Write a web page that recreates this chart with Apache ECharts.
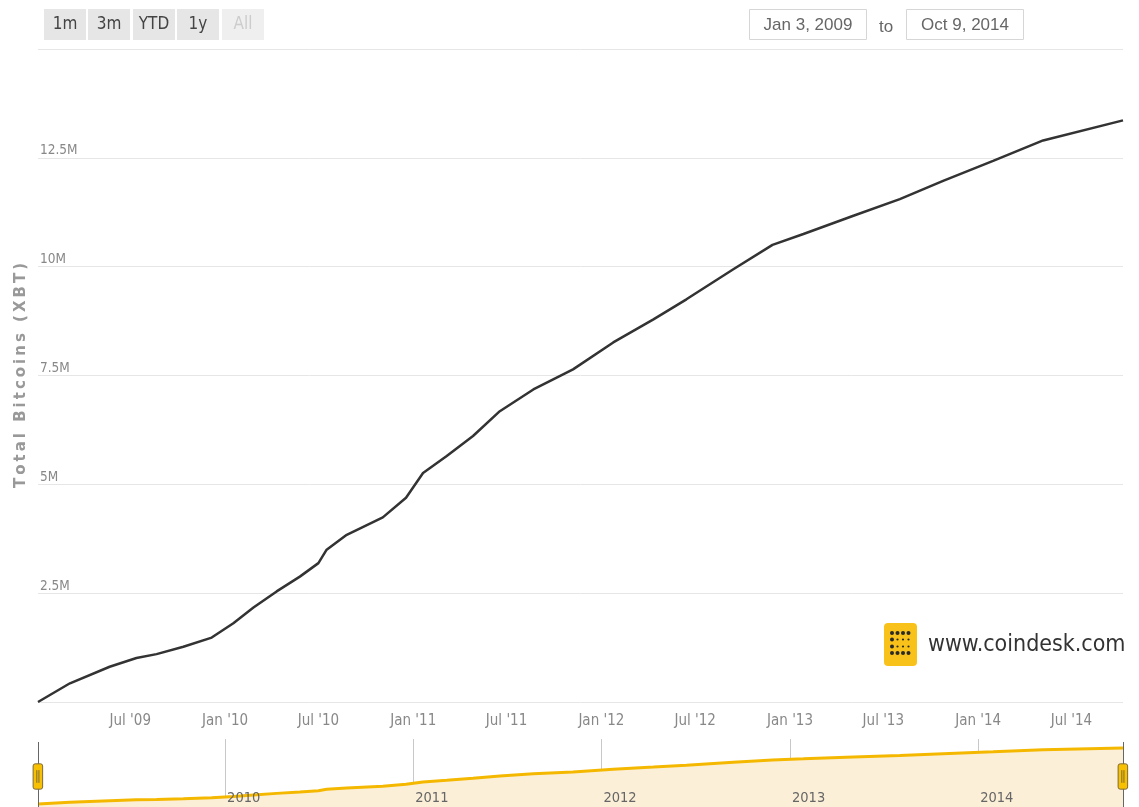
<!DOCTYPE html>
<html>
<head>
<meta charset="utf-8">
<script src="https://cdn.jsdelivr.net/npm/echarts@6/dist/echarts.min.js"></script>
<style>
html,body{margin:0;padding:0;background:#fff;}
#chart{width:1139px;height:807px;}
</style>
</head>
<body>
<div id="chart"></div>
<script>
// ---- data ----
const dates = [
  '2009-01-03','2009-03-06','2009-05-22','2009-07-13','2009-08-21','2009-10-12','2009-12-06',
  '2010-01-17','2010-02-25','2010-04-11','2010-05-26','2010-07-01','2010-07-17','2010-08-25',
  '2010-11-03','2010-12-18','2011-01-20','2011-03-07','2011-04-27','2011-06-18','2011-08-22',
  '2011-11-07','2012-01-24','2012-04-11','2012-06-14','2012-09-13','2012-11-28','2013-01-27',
  '2013-05-04','2013-08-02','2013-10-25','2014-01-30','2014-05-07','2014-10-09'
];
const totalBitcoins = [
  50, 430000, 810000, 1010000, 1100000, 1270000, 1480000,
  1810000, 2170000, 2540000, 2880000, 3190000, 3500000, 3840000,
  4240000, 4690000, 5260000, 5650000, 6110000, 6680000, 7180000,
  7640000, 8260000, 8790000, 9250000, 9940000, 10500000, 10750000,
  11170000, 11550000, 11970000, 12430000, 12900000, 13360000
];
const monthTickDates = ['2009-07-01','2010-01-01','2010-07-01','2011-01-01','2011-07-01','2012-01-01',
  '2012-07-01','2013-01-01','2013-07-01','2014-01-01','2014-07-01'];
const yearTickDates = ['2010-01-01','2011-01-01','2012-01-01','2013-01-01','2014-01-01'];
const yTickStep = 2500000;
const yMax = 15000000;
const yTitle = 'Total Bitcoins (XBT)';
const rangeButtons = ['1m','3m','YTD','1y','All'];
const rangeFrom = 'Jan 3, 2009';
const rangeTo = 'Oct 9, 2014';
const watermark = 'www.coindesk.com';
const monthNames = ['Jan','Feb','Mar','Apr','May','Jun','Jul','Aug','Sep','Oct','Nov','Dec'];

// ---- helpers ----
const ts = s => { const p = s.split('-').map(Number); return Date.UTC(p[0], p[1]-1, p[2]); };
const seriesData = dates.map((d,i) => [ts(d), totalBitcoins[i]]);
const xMin = ts(dates[0]), xMax = ts(dates[dates.length-1]);
const FONT = "'DejaVu Sans Condensed','DejaVu Sans',sans-serif";

const chart = echarts.init(document.getElementById('chart'), null, {renderer:'canvas'});

// range selector buttons
const btnX = [44, 88, 133, 177, 222];
const graphics = [];
rangeButtons.forEach((b,i) => {
  const disabled = b === 'All';
  graphics.push({type:'rect', shape:{x:btnX[i], y:9, width:42, height:31},
    style:{fill: disabled ? '#efefef' : '#e6e6e6'}, silent:true});
  graphics.push({type:'text', x:btnX[i]+21, y:25, style:{text:b, fill: disabled ? '#cccccc' : '#444',
    font:"17px " + FONT, align:'center', verticalAlign:'middle'}, silent:true});
});
// date inputs
graphics.push({type:'rect', shape:{x:749.5, y:9.5, width:117, height:30}, style:{fill:'#fff', stroke:'#d6d6d6', lineWidth:1}, silent:true});
graphics.push({type:'text', x:808, y:25, style:{text:rangeFrom, fill:'#666', font:"17px 'Liberation Sans',Arial,sans-serif", align:'center', verticalAlign:'middle'}, silent:true});
graphics.push({type:'text', x:886, y:27, style:{text:'to', fill:'#666', font:"17px 'Liberation Sans',Arial,sans-serif", align:'center', verticalAlign:'middle'}, silent:true});
graphics.push({type:'rect', shape:{x:906.5, y:9.5, width:117, height:30}, style:{fill:'#fff', stroke:'#d6d6d6', lineWidth:1}, silent:true});
graphics.push({type:'text', x:965, y:25, style:{text:rangeTo, fill:'#666', font:"17px 'Liberation Sans',Arial,sans-serif", align:'center', verticalAlign:'middle'}, silent:true});
// watermark logo
graphics.push({type:'rect', shape:{x:884, y:623, width:33, height:43, r:4}, style:{fill:'#f9c21b'}, silent:true});
const dotCols = [892, 897.5, 903, 908.5], dotRows = [633, 639.5, 646.5, 653];
dotRows.forEach((yy, r) => dotCols.forEach((xx, c) => {
  const big = (r === 0 || r === 3 || c === 0);
  graphics.push({type:'circle', shape:{cx:xx, cy:yy, r: big ? 2 : 1.1}, style:{fill:'#2a2a2a'}, silent:true});
}));
graphics.push({type:'text', x:928, y:645, style:{text:watermark, fill:'#333', font:"23px " + FONT, verticalAlign:'middle'}, silent:true});

const spacedTitle = yTitle.split('').join('\u2009');

const option = {
  animation:false,
  backgroundColor:'#fff',
  graphic: graphics,
  grid:[
    {left:38, right:16, top:49, bottom:105},
    {left:38, right:16, top:742, height:65}
  ],
  xAxis:[
    {type:'value', gridIndex:0, min:xMin, max:xMax, position:'bottom',
      axisLine:{show:false}, axisTick:{show:false}, splitLine:{show:false},
      axisLabel:{customValues: monthTickDates.map(ts), margin:12, color:'#888', fontSize:15, fontFamily:FONT,
        formatter: v => { const d = new Date(v); return monthNames[d.getUTCMonth()] + " '" + String(d.getUTCFullYear()).slice(2); },
        hideOverlap:false}
    },
    {type:'value', gridIndex:1, min:xMin, max:xMax, z:0, position:'bottom',
      axisLine:{show:false}, splitLine:{show:false},
      axisTick:{show:true, inside:true, length:65, customValues: yearTickDates.map(ts), lineStyle:{color:'#c8c8c8', width:1}},
      axisLabel:{show:false}
    },
    {type:'value', gridIndex:1, min:xMin, max:xMax, z:5, position:'bottom',
      axisLine:{show:false}, splitLine:{show:false}, axisTick:{show:false},
      axisLabel:{customValues: yearTickDates.map(ts), inside:true, margin:1, align:'left', padding:[0,0,0,2],
        color:'#666', fontSize:14.5, fontFamily:FONT,
        formatter: v => String(new Date(v).getUTCFullYear())}
    }
  ],
  yAxis:[
    {type:'value', gridIndex:0, min:0, max:yMax, interval:yTickStep,
      name: spacedTitle, nameLocation:'middle', nameGap:9, nameRotate:90,
      nameTextStyle:{color:'#999', fontWeight:'bold', fontSize:15, fontFamily:"'DejaVu Sans',sans-serif"},
      axisLine:{show:false}, axisTick:{show:false},
      splitLine:{lineStyle:{color:'#e6e6e6', width:1}},
      axisLabel:{inside:true, margin:2, align:'left', verticalAlign:'bottom', padding:[0,0,0,0],
        color:'#888', fontSize:13.5, fontFamily:FONT,
        formatter: v => (v === 0 || v === yMax) ? '' : (v/1e6) + 'M'}
    },
    {type:'value', gridIndex:1, min:-700000, max:14760000, show:false, splitLine:{show:false}}
  ],
  dataZoom:[{
    type:'slider', xAxisIndex:[0], filterMode:'none', start:0, end:100,
    left:36, right:16, top:744, height:65,
    showDataShadow:false, showDetail:false, brushSelect:false,
    backgroundColor:'rgba(0,0,0,0)', fillerColor:'rgba(0,0,0,0)', borderColor:'rgba(0,0,0,0)',
    moveHandleSize:0,
    handleIcon:'path://M2,0 L7,0 Q9,0 9,2 L9,22 Q9,24 7,24 L2,24 Q0,24 0,22 L0,2 Q0,0 2,0 Z M3.5,6 L3.5,18 M5.5,6 L5.5,18',
    handleSize:'39%',
    handleStyle:{color:'#f7c000', borderColor:'#7d6a3a', borderWidth:1},
    emphasis:{handleStyle:{color:'#f7c000', borderColor:'#7d6a3a'}},
    z:10
  }],
  series:[
    {type:'line', xAxisIndex:0, yAxisIndex:0, data:seriesData, showSymbol:false, symbol:'none',
      lineStyle:{color:'#333', width:2.5}, z:3, silent:true},
    {type:'line', xAxisIndex:1, yAxisIndex:1, data:seriesData, showSymbol:false, symbol:'none',
      lineStyle:{color:'#f5b800', width:3},
      areaStyle:{color:'#fcefd8', opacity:1, origin:'start'}, z:2, silent:true,
      markLine:{silent:true, symbol:'none', label:{show:false},
        lineStyle:{color:'#666', width:1, type:'solid'},
        data:[{xAxis:xMin},{xAxis:xMax}]}
    }
  ]
};
chart.setOption(option);
</script>
</body>
</html>
